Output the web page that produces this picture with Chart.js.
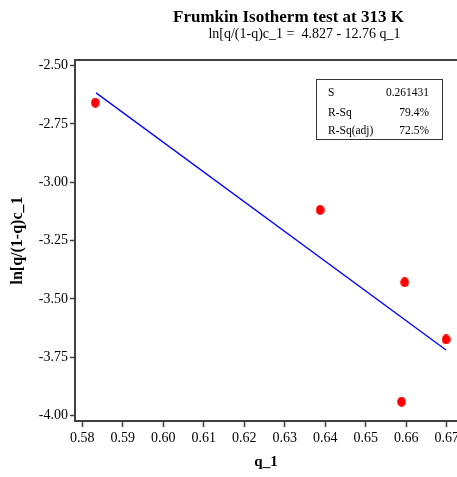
<!DOCTYPE html>
<html>
<head>
<meta charset="utf-8">
<script src="https://cdn.jsdelivr.net/npm/chart.js@4.4.1/dist/chart.umd.min.js"></script>
<style>
  html, body { margin: 0; padding: 0; background: #ffffff; }
  #wrap { position: relative; width: 457px; height: 477px; }
</style>
</head>
<body>
<div id="wrap"><canvas id="c" width="457" height="477"></canvas></div>
<script>
// ---- data ----
const qValues   = [0.5832, 0.6387, 0.6596, 0.6588, 0.6698];
const lnValues  = [-2.659, -3.119, -3.429, -3.941, -3.674];
const fitX      = [0.5834, 0.6698];
const fitY      = [-2.617, -3.719];
const xTicks    = [0.58, 0.59, 0.60, 0.61, 0.62, 0.63, 0.64, 0.65, 0.66, 0.67];
const yTicks    = [-4.00, -3.75, -3.50, -3.25, -3.00, -2.75, -2.50];
const xRange    = [0.5782, 0.6725];
const yRange    = [-4.0236, -2.476];
const statNames  = ['S', 'R-Sq', 'R-Sq(adj)'];
const statValues = ['0.261431', '79.4%', '72.5%'];
const titleText    = 'Frumkin Isotherm test at 313 K';
const subtitleText = 'ln[q/(1-q)c_1 =  4.827 - 12.76 q_1';
const xTitle = 'q_1';
const yTitle = 'ln[q/(1-q)c_1';

const FONT = "'Liberation Serif', 'Times New Roman', serif";
const AXIS = '#404040';

// elliptical red marker
const marker = document.createElement('canvas');
marker.width = 9; marker.height = 10;
(function () {
  const m = marker.getContext('2d');
  m.fillStyle = '#ff0000';
  m.beginPath();
  m.ellipse(4.5, 5, 4.3, 5, 0, 0, Math.PI * 2);
  m.fill();
})();

const decor = {
  id: 'decor',
  afterDraw(chart) {
    const ctx = chart.ctx;
    const a = chart.chartArea;
    ctx.save();
    // top frame line
    ctx.strokeStyle = AXIS;
    ctx.lineWidth = 2;
    ctx.beginPath();
    ctx.moveTo(a.left - 1, a.top);
    ctx.lineTo(a.right, a.top);
    ctx.stroke();

    // title + subtitle
    ctx.fillStyle = '#000';
    ctx.textAlign = 'center';
    ctx.textBaseline = 'alphabetic';
    ctx.font = 'bold 17px ' + FONT;
    ctx.fillText(titleText, 288.5, 22);
    ctx.font = '14px ' + FONT;
    ctx.fillText(subtitleText, 304.5, 38);

    // stats box
    ctx.strokeStyle = '#333';
    ctx.lineWidth = 1;
    ctx.strokeRect(316.5, 79.5, 126, 60);
    ctx.font = '11.5px ' + FONT;
    ctx.textBaseline = 'middle';
    const rows = [93, 112.5, 131];
    statNames.forEach((n, i) => {
      ctx.textAlign = 'left';
      ctx.fillText(n, 328, rows[i]);
      ctx.textAlign = 'right';
      ctx.fillText(statValues[i], 429, rows[i]);
    });
    ctx.restore();
  }
};

new Chart(document.getElementById('c'), {
  type: 'scatter',
  data: {
    datasets: [
      {
        label: 'Regression',
        type: 'line',
        data: fitX.map((x, i) => ({ x, y: fitY[i] })),
        borderColor: '#0000ff',
        borderWidth: 1.3,
        pointRadius: 0,
        fill: false,
        tension: 0,
        order: 2
      },
      {
        label: 'Data',
        data: qValues.map((x, i) => ({ x, y: lnValues[i] })),
        pointStyle: marker,
        backgroundColor: '#ff0000',
        borderColor: '#ff0000',
        order: 1
      }
    ]
  },
  options: {
    responsive: false,
    animation: false,
    devicePixelRatio: 1,
    layout: { autoPadding: false, padding: { top: 60, left: 0, right: 0, bottom: 0 } },
    plugins: {
      legend: { display: false },
      title: { display: false },
      tooltip: { enabled: false }
    },
    scales: {
      x: {
        type: 'linear',
        min: xRange[0],
        max: xRange[1],
        afterBuildTicks: s => { s.ticks = xTicks.map(v => ({ value: v })); },
        afterFit: s => { s.height = 56; s.paddingLeft = 0; s.paddingRight = 0; },
        grid: { display: true, drawOnChartArea: false, drawTicks: true, tickLength: 6, color: AXIS, tickWidth: 1.5 },
        border: { display: true, color: AXIS, width: 2 },
        ticks: {
          color: '#000',
          font: { family: FONT, size: 14 },
          padding: 3,
          maxRotation: 0,
          autoSkip: false,
          callback: v => Number(v).toFixed(2)
        },
        title: {
          display: true,
          text: xTitle,
          color: '#000',
          font: { family: FONT, size: 15, weight: 'bold', lineHeight: 1 },
          padding: { top: 0, bottom: 7 }
        }
      },
      y: {
        type: 'linear',
        min: yRange[0],
        max: yRange[1],
        afterBuildTicks: s => { s.ticks = yTicks.map(v => ({ value: v })); },
        afterFit: s => { s.width = 75; s.paddingTop = 0; s.paddingBottom = 0; },
        grid: { display: true, drawOnChartArea: false, drawTicks: true, tickLength: 5, color: AXIS, tickWidth: 1.5 },
        border: { display: true, color: AXIS, width: 2 },
        ticks: {
          color: '#000',
          font: { family: FONT, size: 14 },
          padding: 2,
          autoSkip: false,
          callback: v => Number(v).toFixed(2)
        },
        title: {
          display: true,
          text: yTitle,
          color: '#000',
          font: { family: FONT, size: 16, weight: 'bold', lineHeight: 1 },
          padding: { top: 10, bottom: 0 }
        }
      }
    }
  },
  plugins: [decor]
});
</script>
</body>
</html>
